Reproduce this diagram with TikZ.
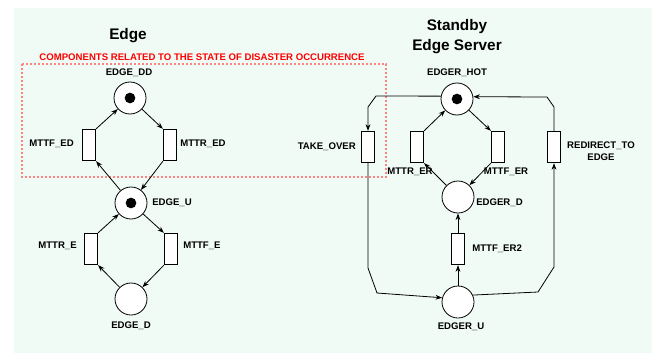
\documentclass[tikz,border=0pt]{standalone}
\usepackage{fontspec}
\setmainfont{Liberation Sans}
\usetikzlibrary{arrows.meta}
\definecolor{mint}{RGB}{240,251,246}
\definecolor{dotred}{RGB}{255,130,130}
\begin{document}
\begin{tikzpicture}[x=0.75pt, y=-0.75pt, >={Stealth[length=5pt,width=3.6pt]},
  place/.style={draw, circle, fill=white, minimum size=24pt, inner sep=0pt, line width=0.6pt},
  trans/.style={draw, rectangle, fill=white, minimum width=10pt, minimum height=23.6pt, inner sep=0pt, line width=0.6pt},
  lbl/.style={font=\fontsize{7.2}{9}\selectfont\bfseries, inner sep=0pt, align=center},
  ttl/.style={font=\fontsize{11.5}{15}\selectfont\bfseries, inner sep=0pt, align=center},
  arc/.style={->, line width=0.6pt}]
\useasboundingbox (0,0) rectangle (652,353);
\fill[mint] (14,8) rectangle (652,353);
\draw[dotred, dash pattern=on 1.5pt off 1.5pt, line width=1pt] (22,64) rectangle (386,177);
\node[ttl] (edge) at (128,36) {Edge};
\node[lbl, text=red] (comp) at (202,57) {COMPONENTS RELATED TO THE STATE OF DISASTER OCCURRENCE};
\node[ttl] (standby) at (457,37) {Standby\\Edge Server};
\node[place] (dd) at (130,98) {};
\node[trans] (edf) at (89,145) {};
\node[trans] (edr) at (170,145) {};
\node[place] (u) at (131,203) {};
\node[trans] (er) at (91,249) {};
\node[trans] (ef) at (171,249) {};
\node[place] (d) at (131,299) {};
\fill (dd) circle[radius=4pt];
\fill (u) circle[radius=4pt];
\node[lbl] (ddl) at (129,73) {EDGE\_DD};
\node[lbl, anchor=east] (edfl) at (74,144) {MTTF\_ED};
\node[lbl, anchor=west] (edrl) at (180,144) {MTTR\_ED};
\node[lbl, anchor=west] (ul) at (152,203) {EDGE\_U};
\node[lbl, anchor=east] (erl) at (77,246) {MTTR\_E};
\node[lbl, anchor=west] (efl) at (183,246) {MTTF\_E};
\node[lbl] (dl) at (131,326) {EDGE\_D};
\node[place] (hot) at (457,99) {};
\node[trans] (take) at (368,147) {};
\node[trans] (rer) at (417,147) {};
\node[trans] (ref) at (498,147) {};
\node[trans] (redir) at (554,147) {};
\node[place] (rd) at (458,197) {};
\node[trans] (rf2) at (458,249) {};
\node[place] (ru) at (458,302) {};
\fill (hot) circle[radius=4pt];
\node[lbl] (hotl) at (457,73) {EDGER\_HOT};
\node[lbl, anchor=east] (takel) at (356,147) {TAKE\_OVER};
\node[lbl] (rerl) at (410,172) {MTTR\_ER};
\node[lbl] (refl) at (506,172) {MTTF\_ER};
\node[lbl] (redirl) at (601,151) {REDIRECT\_TO\\EDGE};
\node[lbl, anchor=west] (rdl) at (476,203) {EDGER\_D};
\node[lbl, anchor=west] (rf2l) at (472,249) {MTTF\_ER2};
\node[lbl] (rul) at (461,327) {EDGER\_U};
\draw[arc] (u) -- (edf.south east);
\draw[arc] (edf.north east) -- (dd);
\draw[arc] (dd) -- (edr.north west);
\draw[arc] (edr.south west) -- (u);
\draw[arc] (u) -- (ef.north west);
\draw[arc] (ef.south west) -- (d);
\draw[arc] (d) -- (er.south east);
\draw[arc] (er.north east) -- (u);
\draw[arc] (rd) -- (rer.south east);
\draw[arc] (rer.north east) -- (hot);
\draw[arc] (hot) -- (ref.north west);
\draw[arc] (ref.south west) -- (rd);
\draw[arc] (ru) -- (rf2);
\draw[arc] (rf2) -- (rd);
\draw[arc] (hot.170) -- (376,96) -- (368,107) -- (take.north);
\draw[arc] (take.south) -- (368,268) -- (377,293) -- (ru.165);
\draw[arc] (ru.25) -- (538,292) -- (554,267) -- (redir.south);
\draw[arc] (redir.north) -- (554,107) -- (547,97) -- (hot.8);
\end{tikzpicture}
\end{document}
